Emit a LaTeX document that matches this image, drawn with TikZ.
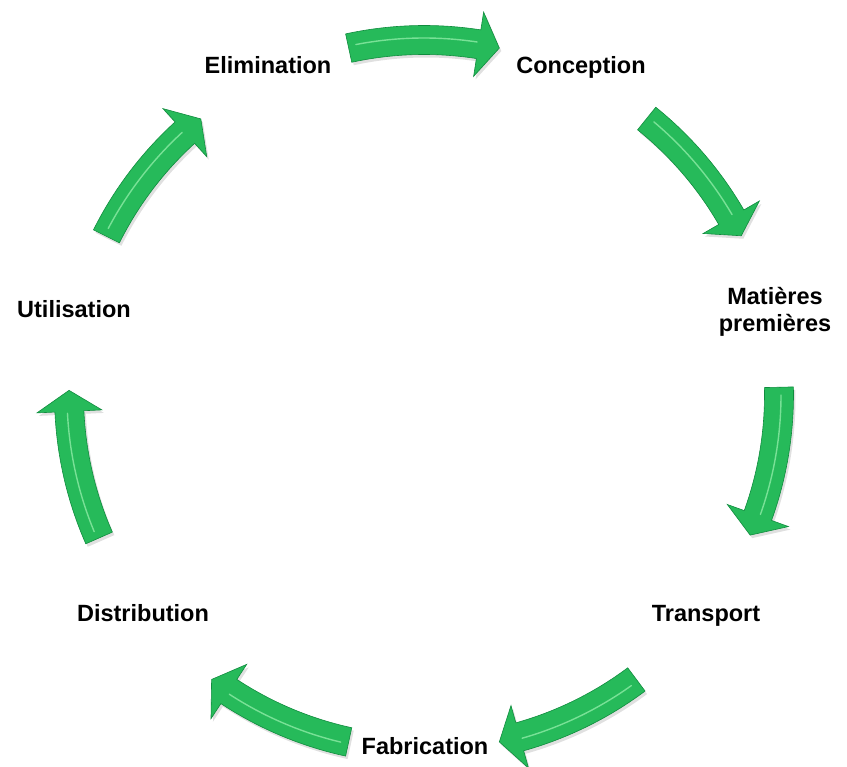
\documentclass[tikz,border=0pt]{standalone}
\usepackage{fontspec}
\setmainfont{Liberation Sans}
\definecolor{arrowgreen}{RGB}{38,186,90}
\definecolor{arrowedge}{RGB}{16,140,62}
\definecolor{arrowlight}{RGB}{120,225,150}
\tikzset{
  lbl/.style={font=\fontsize{23.5}{27}\selectfont\bfseries, inner sep=0pt, anchor=base, align=center},
  arrowbody/.style={fill=arrowgreen, draw=arrowedge, line width=0.6pt, line join=miter},
  arrowshadow/.style={fill=black, opacity=0.12},
  arrowhl/.style={draw=arrowlight, line width=1.4pt, line cap=round}
}
\newcommand{\cyclearrow}[2][]{%
  \pgfmathsetmacro\cta{#2+12.25}%
  \pgfmathsetmacro\ctb{#2-12.25}%
  \pgfmathsetmacro\chb{#2-12.25+3.4}%
  \pgfmathsetmacro\chm{#2+11.0}%
  \fill[arrowshadow,shift={(2,-3)}] (\cta:340.5) arc[start angle=\cta, end angle=\chb, radius=340.5]
     -- (\chb:322.5) -- (\ctb:355) -- (\chb:387.5) -- (\chb:369.5)
     arc[start angle=\chb, end angle=\cta, radius=369.5] -- cycle;
  \path[arrowbody] (\cta:340.5) arc[start angle=\cta, end angle=\chb, radius=340.5]
     -- (\chb:322.5) -- (\ctb:355) -- (\chb:387.5) -- (\chb:369.5)
     arc[start angle=\chb, end angle=\cta, radius=369.5] -- cycle;
  \draw[arrowhl] (\chm:357) arc[start angle=\chm, end angle=\chb+0.3, radius=357];
}
\begin{document}
\begin{tikzpicture}[x=1pt,y=1pt]
\useasboundingbox (0,0) rectangle (847,767);
% labels
\node[lbl] (elim) at (268,693.6) {Elimination};
\node[lbl] (conc) at (581,693.6) {Conception};
\node[lbl] (mat)  at (775,435) {Matières\\premières};
\node[lbl] (trans) at (706,145.6) {Transport};
\node[lbl] (fab) at (425,12.6) {Fabrication};
\node[lbl] (dist) at (143,145.6) {Distribution};
\node[lbl] (util) at (74,449.6) {Utilisation};
% cycle arrows
\begin{scope}[shift={(424,372)}]
  \cyclearrow{90}
  \cyclearrow{38.9}
  \cyclearrow{-11}
  \cyclearrow{-65.5}
  \cyclearrow{-114.5}
  \cyclearrow{-168.5}
  \cyclearrow{141.2}
\end{scope}
\end{tikzpicture}
\end{document}
